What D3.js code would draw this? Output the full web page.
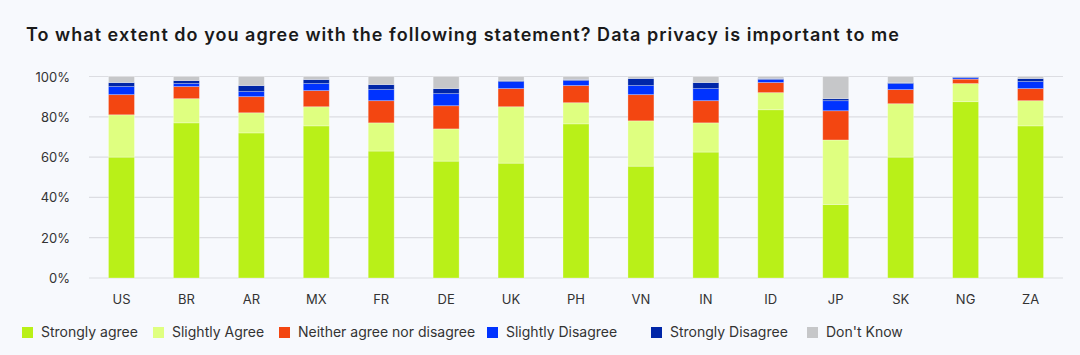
<!DOCTYPE html>
<html>
<head>
<meta charset="utf-8">
<script src="https://cdn.jsdelivr.net/npm/d3@7"></script>
<style>
  html, body { margin: 0; padding: 0; background: #F7F9FD; }
  svg { display: block; }
</style>
</head>
<body>
<svg id="chart" width="1080" height="355"></svg>
<script>
const categories = ["US","BR","AR","MX","FR","DE","UK","PH","VN","IN","ID","JP","SK","NG","ZA"];
const seriesNames = ["Strongly agree","Slightly Agree","Neither agree nor disagree","Slightly Disagree","Strongly Disagree","Don't Know"];
const stronglyAgree    = [60, 77, 72, 75.5, 63, 58, 57, 76.5, 55.5, 62.5, 83.5, 36.5, 60, 87.5, 75.5];
const slightlyAgree    = [21, 12, 10, 9.5, 14, 16, 28, 10.5, 22.5, 14.5, 8.5, 32, 26.5, 9, 12.5];
const neither          = [10, 6, 8, 8, 11, 11.5, 9, 8.5, 13, 11, 5, 14.5, 7, 2.2, 6];
const slightlyDisagree = [4, 1.5, 2.5, 3.5, 5.5, 6, 3.5, 2.5, 4.5, 6, 1.5, 5, 3, 0.7, 3.5];
const stronglyDisagree = [2, 1.5, 3, 2, 2.5, 2.5, 0.5, 0.5, 3.5, 3, 0.5, 1, 0.5, 0.3, 1.5];
const dontKnow         = [3, 2, 4.5, 1.5, 4, 6, 2, 1.5, 1, 3, 1, 11, 3, 0.3, 1];
const yTicks = [0, 20, 40, 60, 80, 100];
const colors = ["#B9F018","#DFFF80","#F34611","#0033FF","#0026A8","#C6C7C9"];

const allSeries = [stronglyAgree, slightlyAgree, neither, slightlyDisagree, stronglyDisagree, dontKnow];
const rows = categories.map((c, i) => {
  const r = { cat: c };
  seriesNames.forEach((s, k) => r[s] = allSeries[k][i]);
  return r;
});
const stacked = d3.stack().keys(seriesNames)(rows);

const svg = d3.select("#chart");
const font = "Inter, 'Open Sans', sans-serif";

const x = d3.scaleBand().domain(categories).range([89, 1063]).paddingInner(0.6).paddingOuter(0.3);
const y = d3.scaleLinear().domain([0, 100]).range([278, 76.5]);

svg.append("text").attr("x", 26).attr("y", 41)
  .attr("font-family", font).attr("font-size", 18).attr("font-weight", 600)
  .attr("fill", "#1a1a1a")
  .attr("textLength", 873).attr("lengthAdjust", "spacing")
  .text("To what extent do you agree with the following statement? Data privacy is important to me");

// grid
const grid = svg.append("g");
grid.selectAll("line").data(yTicks).join("line")
  .attr("x1", 89).attr("x2", 1063)
  .attr("y1", d => y(d)).attr("y2", d => y(d))
  .attr("stroke", "#DCDDE2").attr("stroke-width", 1.2);

// y axis
const yAxis = svg.append("g").attr("transform", "translate(70,0)")
  .call(d3.axisLeft(y).tickValues(yTicks).tickSize(0).tickPadding(0).tickFormat(d => d + "%"));
yAxis.select(".domain").remove();
yAxis.selectAll("text").attr("font-family", font).attr("font-size", 13).attr("fill", "#333").attr("dy", "0.35em");

// x axis
const xAxis = svg.append("g").attr("transform", "translate(0,292)")
  .call(d3.axisBottom(x).tickSize(0).tickPadding(0));
xAxis.select(".domain").remove();
xAxis.selectAll("text").attr("font-family", font).attr("font-size", 13).attr("fill", "#333").attr("dy", "0.95em");

// bars
svg.append("g").selectAll("g").data(stacked).join("g")
  .attr("fill", (d, i) => colors[i])
  .selectAll("rect").data(d => d).join("rect")
  .attr("x", d => x(d.data.cat))
  .attr("width", x.bandwidth())
  .attr("y", d => y(d[1]))
  .attr("height", d => Math.max(0, y(d[0]) - y(d[1])))
  .attr("stroke", "#ffffff").attr("stroke-opacity", 0.35).attr("stroke-width", 0.8);

// legend
const legendX = [22, 153, 279, 487, 651, 807];
const lg = svg.append("g");
seriesNames.forEach((s, i) => {
  lg.append("rect").attr("x", legendX[i]).attr("y", 327).attr("width", 11).attr("height", 11).attr("fill", colors[i]);
  lg.append("text").attr("x", legendX[i] + 19).attr("y", 337)
    .attr("font-family", font).attr("font-size", 14).attr("fill", "#333").text(s);
});
</script>
</body>
</html>
